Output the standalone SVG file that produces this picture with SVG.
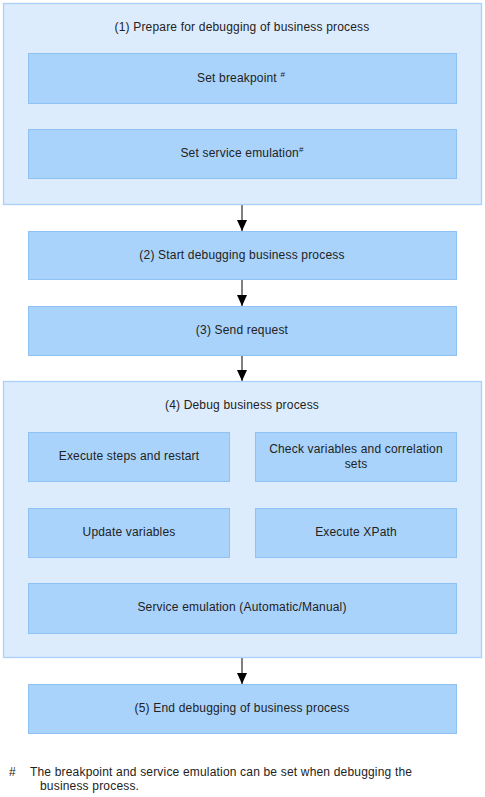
<svg xmlns="http://www.w3.org/2000/svg" width="485" height="797" viewBox="0 0 485 797">
<style>
.outer{fill:#ddecfd;stroke:#a8d0fb;stroke-width:1.3}
.inner{fill:#a9d3fb;stroke:#8ec2f4;stroke-width:1}
text{font-family:"Liberation Sans",Arial,sans-serif;font-size:12px;letter-spacing:0.18px;fill:#222}
.c{text-anchor:middle}
.sup{font-size:8px}
</style>
<g id="connectors">
<path d="M242,205 L242,231" stroke="#000" fill="none"/>
<path d="M237,220 L247,220 L242,231 Z" fill="#000"/>
<path d="M242,280 L242,306" stroke="#000" fill="none"/>
<path d="M237,295 L247,295 L242,306 Z" fill="#000"/>
<path d="M242,356 L242,381" stroke="#000" fill="none"/>
<path d="M237,370 L247,370 L242,381 Z" fill="#000"/>
<path d="M242,658 L242,684" stroke="#000" fill="none"/>
<path d="M237,673 L247,673 L242,684 Z" fill="#000"/>
</g>
<g id="n1">
<rect class="outer" x="3.5" y="3.5" width="478" height="201"/>
<text class="c" x="242" y="31">(1) Prepare for debugging of business process</text>
</g>
<g id="n1a">
<rect class="inner" x="28.5" y="53.5" width="428" height="50"/>
<text class="c" x="241" y="82">Set breakpoint <tspan class="sup" dy="-5">#</tspan></text>
</g>
<g id="n1b">
<rect class="inner" x="28.5" y="129.5" width="428" height="49"/>
<text class="c" x="242" y="157">Set service emulation<tspan class="sup" dy="-5">#</tspan></text>
</g>
<g id="n2">
<rect class="inner" x="28.5" y="231.5" width="428" height="48"/>
<text class="c" x="242" y="259">(2) Start debugging business process</text>
</g>
<g id="n3">
<rect class="inner" x="28.5" y="306.5" width="428" height="49"/>
<text class="c" x="242" y="334">(3) Send request</text>
</g>
<g id="n4">
<rect class="outer" x="3.5" y="381.5" width="478" height="276"/>
<text class="c" x="242" y="409">(4) Debug business process</text>
</g>
<g id="n4a">
<rect class="inner" x="28.5" y="432.5" width="201" height="49"/>
<text class="c" x="129" y="460">Execute steps and restart</text>
</g>
<g id="n4b">
<rect class="inner" x="255.5" y="432.5" width="201" height="49"/>
<text class="c" x="356" y="453">Check variables and correlation</text>
<text class="c" x="356" y="468">sets</text>
</g>
<g id="n4c">
<rect class="inner" x="28.5" y="508.5" width="201" height="49"/>
<text class="c" x="129" y="536">Update variables</text>
</g>
<g id="n4d">
<rect class="inner" x="255.5" y="508.5" width="201" height="49"/>
<text class="c" x="356" y="536">Execute XPath</text>
</g>
<g id="n4e">
<rect class="inner" x="28.5" y="583.5" width="428" height="50"/>
<text class="c" x="242" y="611">Service emulation (Automatic/Manual)</text>
</g>
<g id="n5">
<rect class="inner" x="28.5" y="684.5" width="428" height="49"/>
<text class="c" x="242" y="712">(5) End debugging of business process</text>
</g>
<g id="footnote">
<text x="9" y="776">#</text>
<text x="30" y="776">The breakpoint and service emulation can be set when debugging the</text>
<text x="40" y="790">business process.</text>
</g>
</svg>
